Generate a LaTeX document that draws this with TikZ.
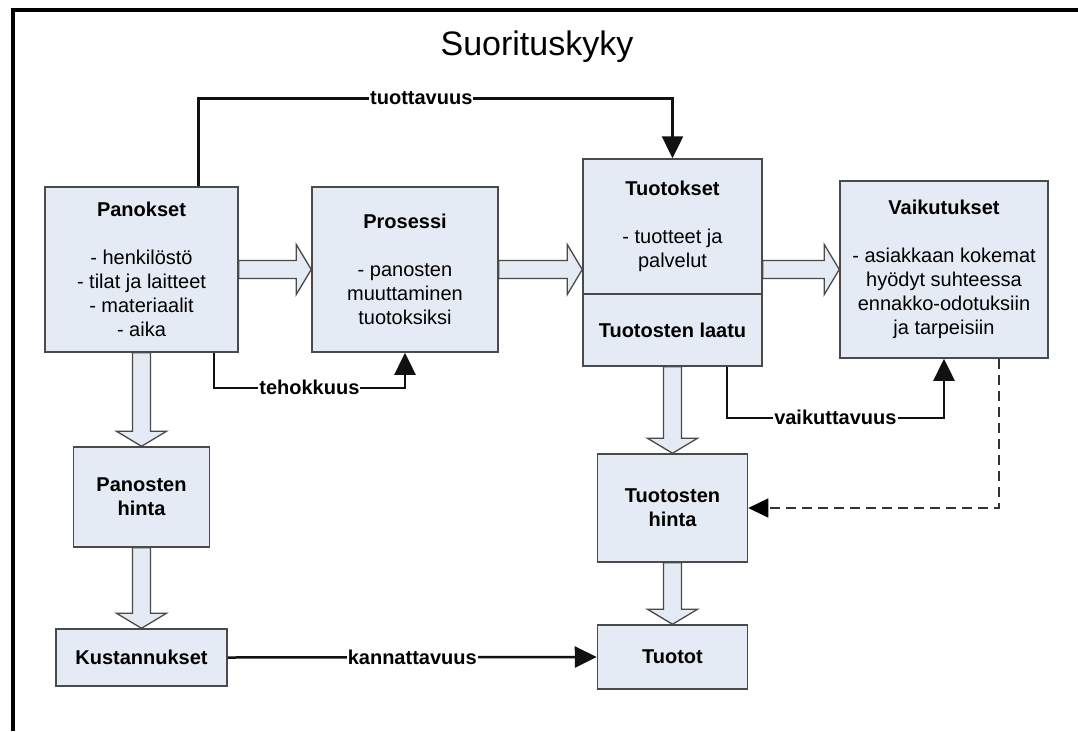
\documentclass[tikz,border=0pt]{standalone}
\usepackage{fontspec}
\setmainfont{Liberation Sans}
\usetikzlibrary{calc,arrows.meta}
\definecolor{boxfill}{HTML}{E4EBF5}
\definecolor{boxline}{HTML}{4A4A4A}
\definecolor{linkdark}{HTML}{111111}

% wide hollow arrow between two points (shaft 18, head 50 x 15)
\newcommand{\fatarrow}[2]{%
  \coordinate (fa-s) at (#1);
  \coordinate (fa-e) at (#2);
  \coordinate (fa-h) at ($(fa-e)!15pt!(fa-s)$);
  \draw[fatline]
    ($(fa-s)!9pt!90:(fa-e)$) -- ($(fa-h)!9pt!-90:(fa-s)$)
    -- ($(fa-h)!25pt!-90:(fa-s)$) -- (fa-e)
    -- ($(fa-h)!25pt!90:(fa-s)$) -- ($(fa-h)!9pt!90:(fa-s)$)
    -- ($(fa-s)!9pt!-90:(fa-e)$) -- cycle;
}

\begin{document}
\begin{tikzpicture}[
    x=1pt, y=-1pt,
    every node/.style={font=\fontsize{20}{24}\selectfont},
    box/.style={draw=boxline, fill=boxfill, line width=1.5pt, align=center,
      inner sep=0pt, font=\fontsize{20}{24}\selectfont},
    fatline/.style={draw=boxline, fill=boxfill, line width=1.3pt, line join=miter},
    link/.style={draw=linkdark, line width=2.5pt,
      -{Triangle[length=22pt,width=21pt]}},
    dashlink/.style={draw=black!80, line width=1.5pt, dash pattern=on 10pt off 6pt,
      -{Triangle[length=20pt,width=19pt,color=black]}},
    lbl/.style={fill=white, inner sep=1pt, text=black,
      font=\bfseries\fontsize{20}{24}\selectfont},
  ]
  \useasboundingbox (0,0) rectangle (1078,731);

  % ---------- Frame and title ---------------------------------------------
  \draw[line width=4pt] (12.5,731) -- (12.5,10) -- (1078,10);
  \node[anchor=base, font=\fontsize{34}{40}\selectfont] (otsikko)
    at (537,55) {Suorituskyky};

  % ---------- Top row -----------------------------------------------------
  % Panokset (45,187) -> (238,352)
  \node[box, minimum width=193pt, minimum height=165pt] (panokset)
    at (141.5,269.5) {{\bfseries Panokset}\\[24pt]
      - henkilöstö\\ - tilat ja laitteet\\ - materiaalit\\ - aika};
  % Prosessi (312,187) -> (498,352)
  \node[box, minimum width=186pt, minimum height=165pt] (prosessi)
    at (405,269.5) {{\bfseries Prosessi}\\[24pt]
      - panosten\\ muuttaminen\\ tuotoksiksi};
  % Tuotokset, two stacked parts (583,159) -> (762,294) -> (762,366)
  \node[box, minimum width=179pt, minimum height=135pt] (tuotokset)
    at (672.5,226.5) {{\bfseries Tuotokset}\\[24pt] - tuotteet ja\\ palvelut};
  \node[box, minimum width=179pt, minimum height=72pt] (laatu)
    at (672.5,330) {\bfseries Tuotosten laatu};
  % Vaikutukset (840,181) -> (1048,358)
  \node[box, minimum width=208pt, minimum height=177pt] (vaikutukset)
    at (944,269.5) {{\bfseries Vaikutukset}\\[24pt]
      - asiakkaan kokemat\\ hyödyt suhteessa\\ ennakko-odotuksiin\\ ja tarpeisiin};

  % ---------- Price / cost column (left) ----------------------------------
  \node[box, minimum width=136pt, minimum height=100pt, font=\bfseries\fontsize{20}{24}\selectfont]
    (panostenhinta) at (141.5,497) {Panosten\\ hinta};
  \node[box, minimum width=171pt, minimum height=57pt, font=\bfseries\fontsize{20}{24}\selectfont]
    (kustannukset) at (141.5,657.5) {Kustannukset};

  % ---------- Price / revenue column (right) ------------------------------
  \node[box, minimum width=150pt, minimum height=108pt, font=\bfseries\fontsize{20}{24}\selectfont]
    (tuotostenhinta) at (672.5,508) {Tuotosten\\ hinta};
  \node[box, minimum width=150pt, minimum height=64pt, font=\bfseries\fontsize{20}{24}\selectfont]
    (tuotot) at (672.5,657) {Tuotot};

  % ---------- Hollow flow arrows ------------------------------------------
  \fatarrow{panokset.east}{panokset.east -| prosessi.west}
  \fatarrow{prosessi.east}{prosessi.east -| tuotokset.west}
  \fatarrow{vaikutukset.west -| tuotokset.east}{vaikutukset.west}
  \fatarrow{panokset.south}{panostenhinta.north}
  \fatarrow{panostenhinta.south}{kustannukset.north}
  \fatarrow{laatu.south}{tuotostenhinta.north}
  \fatarrow{tuotostenhinta.south}{tuotot.north}

  % ---------- Measures ----------------------------------------------------
  \draw[link] ($(panokset.north)+(57,0)$) -- ++(0,-88)
    -| node[lbl, pos=0.235] {tuottavuus} (tuotokset.north);
  \draw[link] ($(panokset.south east)+(-25,0)$) -- ++(0,35)
    -| node[lbl, pos=0.25] {tehokkuus} (prosessi.south);
  \draw[link] ($(laatu.south east)+(-36,0)$) -- ++(0,51)
    -| node[lbl, pos=0.25] {vaikuttavuus} (vaikutukset.south);
  \draw[link] (kustannukset.east) -- node[lbl] {kannattavuus} (tuotot.west);

  % feedback from effects to output price
  \draw[dashlink] ($(vaikutukset.south east)+(-50,0)$) |- (tuotostenhinta.east);

\end{tikzpicture}
\end{document}
